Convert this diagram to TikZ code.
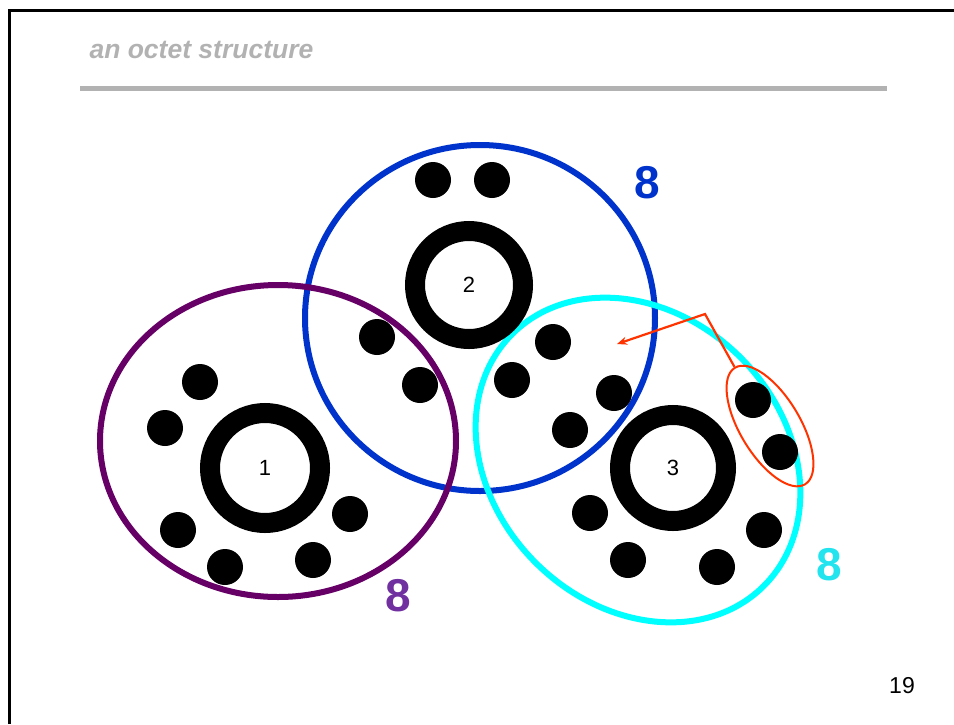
\documentclass[tikz,border=0pt]{standalone}
\usepackage{fontspec}
\setmainfont{Liberation Sans}
\usetikzlibrary{shapes.geometric, arrows.meta}

\definecolor{shellpurple}{HTML}{660066}
\definecolor{eightpurple}{HTML}{7030A0}
\definecolor{shellblue}{HTML}{0033CC}
\definecolor{shellcyan}{HTML}{00FFFF}
\definecolor{eightcyan}{HTML}{22E4EE}
\definecolor{pairred}{HTML}{FF3300}
\definecolor{titlegray}{HTML}{B2B2B2}

\begin{document}
\begin{tikzpicture}[x=1pt, y=1pt,
  electron/.style = {circle, fill=black, minimum size=36pt, inner sep=0pt},
  nucleus/.style = {circle, draw, line width=20pt, minimum size=110pt, inner sep=0pt, font=\fontsize{22}{22}\selectfont},
  shell/.style = {ellipse, draw, line width=6pt, inner sep=0pt},
  count/.style = {font=\fontsize{46}{46}\selectfont\bfseries}]
\useasboundingbox (0,0) rectangle (954,-724);
\draw[line width=3pt] (9,-724) -- (9,-10) -- (954,-10);
\node[anchor=west, text=titlegray, font=\fontsize{26.5}{26.5}\selectfont\bfseries\itshape] (title) at (86,-50) {an octet structure};
\draw[line width=5pt, titlegray] (80,-88) -- (887,-88);

% the three shells
\node[shell, draw=shellblue, minimum width=350pt, minimum height=346pt] (shell2) at (480,-318) {};
\node[shell, draw=shellpurple, minimum width=356pt, minimum height=312pt] (shell1) at (278,-441) {};
\node[shell, draw=shellcyan, rotate=-45, minimum width=356pt, minimum height=290pt] (shell3) at (638,-460) {};

% nuclei
\node[nucleus, minimum size=110pt] (n1) at (265,-468) {1};
\node[nucleus, minimum size=108pt] (n2) at (469,-285) {2};
\node[nucleus, minimum size=106pt] (n3) at (673,-468) {3};

% electrons
\foreach \x/\y [count=\i] in {200/382, 165/428, 178/530, 225/567, 313/560, 350/514}
  \node[electron] (e1-\i) at (\x,-\y) {};
\foreach \x/\y [count=\i] in {433/180, 492/180, 377/337, 420/385, 553/342, 512/380}
  \node[electron] (e2-\i) at (\x,-\y) {};
\foreach \x/\y [count=\i] in {614/393, 570/430, 590/513, 628/560, 717/567, 764/530, 753/400, 780/452}
  \node[electron] (e3-\i) at (\x,-\y) {};

% shared pair
\node[ellipse, draw=pairred, line width=2pt, rotate=-59, minimum width=136pt, minimum height=60pt] (pair) at (770,-426) {};
\coordinate (bend) at (705,-314);
\coordinate (tip) at (617,-344);
\draw[pairred, line width=2.2pt, -{Stealth[length=10pt, width=8pt]}] (pair.west) -- (bend) -- (tip);

\node[count, text=shellblue] (c2) at (647,-183) {8};
\node[count, text=eightpurple] (c1) at (398,-596) {8};
\node[count, text=eightcyan] (c3) at (829,-565) {8};
\node[font=\fontsize{23}{23}\selectfont] (page) at (902,-686) {19};
\end{tikzpicture}
\end{document}
